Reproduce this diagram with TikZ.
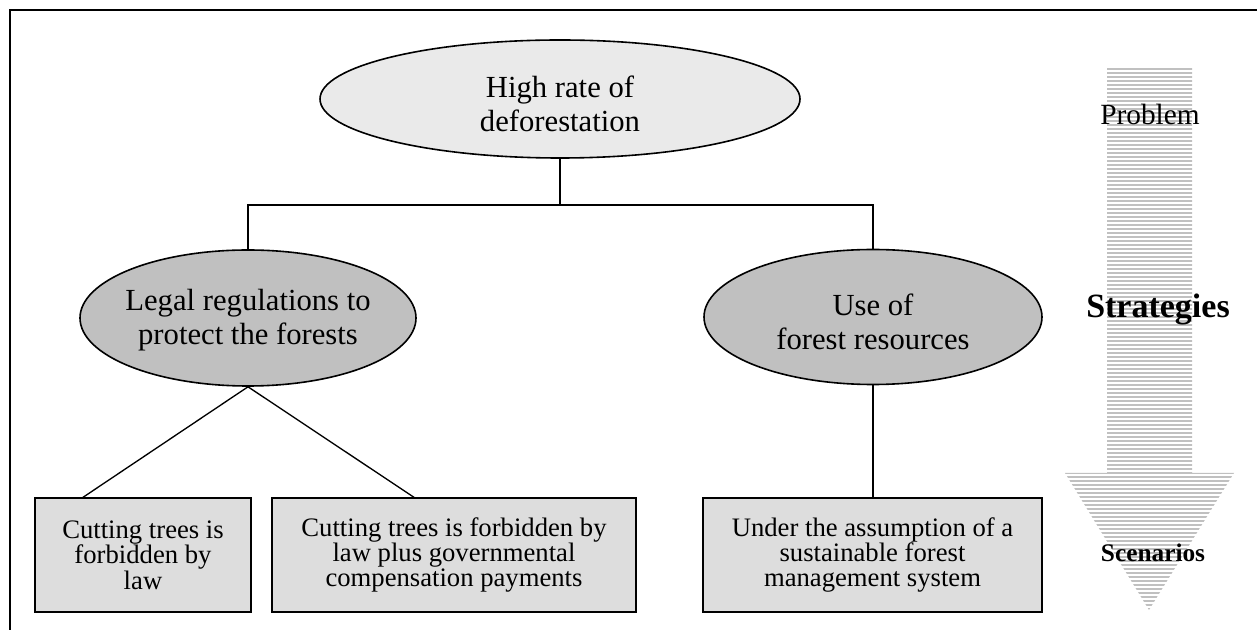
\documentclass[tikz,border=0pt]{standalone}
\usepackage{fontspec}
\setmainfont{Liberation Serif}
\usetikzlibrary{shapes.geometric}
\definecolor{topfill}{HTML}{EAEAEA}
\definecolor{midfill}{HTML}{C0C0C0}
\definecolor{boxfill}{HTML}{DDDDDD}
\definecolor{stripe}{HTML}{C0C0C0}
\tikzset{
  ell/.style={ellipse, draw, line width=1.2pt, inner sep=0pt},
  elltext/.style={inner sep=0pt, align=center, font=\fontsize{23}{25.5}\selectfont},
  leaf/.style={rectangle, draw, line width=1.1pt, fill=boxfill, inner sep=0pt, align=center,
    minimum height=114*0.75pt, font=\fontsize{20}{19}\selectfont},
  conn/.style={line width=1pt},
  frame/.style={line width=1.8pt},
}
\begin{document}
\begin{tikzpicture}[x=0.75pt,y=-0.75pt]
\useasboundingbox (0,0) rectangle (1257,630);
% frame (cut at right and bottom)
\draw[frame] (10,630) -- (10,10) -- (1257,10);
% striped arrow
\begin{scope}
\clip (1107,68) -- (1192,68) -- (1192,473) -- (1234,473) -- (1149,610) -- (1065,473) -- (1107,473) -- cycle;
\foreach \yy in {69,73,...,613} {
  \draw[stripe, line width=2.1pt] (1050,\yy) -- (1250,\yy);
}
\end{scope}
\node (prob) at (1150,114) {\fontsize{22}{24}\selectfont Problem};
\node (strat) at (1158,309) {\fontsize{25.5}{28}\selectfont\bfseries Strategies};
\node (scen) at (1153,553) {\fontsize{19}{21}\selectfont\bfseries Scenarios};
% ellipses
\node[ell, fill=topfill, minimum width=480*0.75pt, minimum height=118*0.75pt] (top) at (560,99) {};
\node[elltext] (toptext) at (560,104) {High rate of\\deforestation};
\node[ell, fill=midfill, minimum width=336*0.75pt, minimum height=136*0.75pt] (L) at (248,318) {};
\node[elltext] (Ltext) at (248,320) {Legal regulations to\\protect the forests};
\node[ell, fill=midfill, minimum width=338*0.75pt, minimum height=135*0.75pt] (R) at (873,317) {};
\node[elltext] (Rtext) at (873,322) {Use of\\forest resources};
% boxes
\node[leaf, minimum width=216*0.75pt] (b1) at (143,555) {Cutting trees is\\forbidden by\\law};
\node[leaf, minimum width=364*0.75pt] (b2) at (454,555) {Cutting trees is forbidden by\\law plus governmental\\compensation payments};
\node[leaf, minimum width=339*0.75pt] (b3) at (872.5,555) {Under the assumption of a\\sustainable forest\\management system};
% connectors
\coordinate (j) at (560,205);
\draw[conn] (top.south) -- (j);
\draw[conn] (L.north) |- (j) -| (R.north);
\coordinate (b1t) at (82,498);
\coordinate (b2t) at (415,498);
\draw[conn] (L.south) -- (b1t);
\draw[conn] (L.south) -- (b2t);
\draw[conn] (R.south) -- (R.south |- b3.north);
\end{tikzpicture}
\end{document}
